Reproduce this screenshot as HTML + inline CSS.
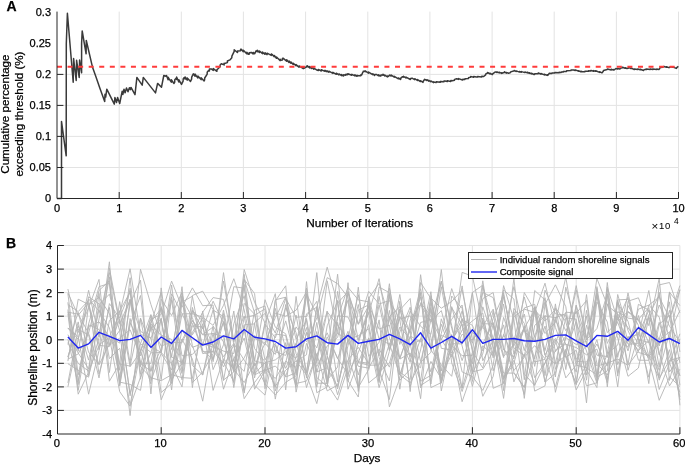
<!DOCTYPE html><html><head><meta charset="utf-8"><style>html,body{margin:0;padding:0;background:#fff;}svg{display:block;will-change:transform;filter:blur(0.3px);}text{font-family:"Liberation Sans", sans-serif;fill:#000;stroke:#000;stroke-width:0.25px;}text.thin{stroke-width:0.05px;}</style></head><body>
<svg width="685" height="465" viewBox="0 0 685 465">
<rect width="685" height="465" fill="#fff"/>
<path d="M119.2 11.6V198.5M181.3 11.6V198.5M243.4 11.6V198.5M305.6 11.6V198.5M367.8 11.6V198.5M429.9 11.6V198.5M492.1 11.6V198.5M554.2 11.6V198.5M616.4 11.6V198.5M678.5 11.6V198.5M57.0 167.5H678.5M57.0 136.4H678.5M57.0 105.4H678.5M57.0 74.4H678.5" stroke="#e3e3e3" stroke-width="1" fill="none"/>
<polyline points="57.0,198.4 61.5,198.4 61.5,121.4 66.2,155.8 66.3,43.7 67.4,13.3 73.2,82.2 73.6,58.6 76.2,80.5 76.6,60.3 79.2,77.5 79.6,59.9 81.6,72.8 81.6,43.5 82.2,31.0 86.1,53.8 86.3,40.5 91.9,64.6 92.8,68.1 96.1,77.2 99.8,88.0 104.7,101.4 105.0,94.2 105.7,97.1 106.8,89.2 114.3,104.1 114.9,97.6 116.5,102.5 117.6,97.4 119.7,103.5 122.2,91.2 122.9,94.4 124.0,89.2 125.1,92.8 126.5,88.0 128.0,91.7 129.4,87.7 130.5,89.6 131.0,87.4 135.0,94.7 136.9,77.4 142.2,85.2 143.3,77.4 155.5,92.9 157.6,83.4 161.5,87.2 163.8,75.5 166.0,76.2 166.5,75.6 168.1,79.7 168.2,77.2 168.6,78.2 171.3,82.2 171.3,79.7 174.0,83.5 174.7,82.2 174.8,79.8 176.1,78.1 176.6,79.4 176.6,77.0 178.8,82.0 178.8,79.7 181.5,84.4 183.1,81.2 183.2,79.0 184.1,77.6 185.1,79.1 185.1,77.0 187.2,80.1 187.3,77.9 187.5,78.2 190.5,81.4 191.6,79.1 191.7,77.1 193.3,73.8 195.1,76.2 195.1,74.1 196.6,76.4 197.9,78.0 197.9,76.0 201.1,79.6 201.1,77.7 204.1,80.9 204.6,79.9 204.7,78.0 207.2,74.1 207.2,72.3 208.4,70.6 209.4,71.0 209.4,69.1 211.6,69.1 213.3,70.4 213.3,68.6 216.9,71.3 217.0,69.6 217.0,69.7 220.1,66.8 220.1,65.1 221.3,63.8 224.1,64.9 224.1,63.3 224.5,63.5 227.4,62.6 227.4,61.0 229.9,59.9 231.8,57.7 231.9,56.1 232.0,55.9 234.2,51.4 234.2,49.8 234.2,49.7 237.4,52.5 237.5,52.5 237.5,51.0 240.6,50.8 240.6,49.3 241.3,49.3 243.3,51.7 243.4,50.2 246.7,53.8 246.8,52.3 248.2,54.2 249.2,54.2 249.2,52.8 251.4,52.4 253.1,54.0 253.2,52.4 254.6,53.8 256.1,50.8 257.3,51.7 257.3,50.2 259.4,52.5 259.5,51.0 262.5,53.6 262.5,52.1 263.6,53.2 265.0,54.3 265.1,52.8 267.1,54.6 267.1,53.2 271.3,55.4 271.3,53.9 272.2,54.5 274.2,56.8 274.3,55.4 276.4,58.3 276.5,56.9 280.0,60.6 280.1,59.2 280.8,60.2 282.4,59.9 282.4,58.5 283.0,58.2 286.6,61.2 286.7,59.8 289.0,62.4 289.1,61.0 290.9,63.3 291.0,62.0 293.2,64.5 293.3,63.2 296.0,65.8 296.0,64.5 298.0,66.4 299.0,67.2 299.1,65.9 303.3,68.6 303.3,67.4 304.5,68.2 306.6,66.7 307.0,66.9 307.0,65.7 309.7,67.9 309.7,66.6 311.5,68.5 311.6,67.3 313.8,69.3 313.8,68.1 317.4,70.3 318.3,70.6 318.3,69.4 321.3,71.0 321.3,69.8 325.0,71.4 325.0,70.3 326.0,71.0 326.9,71.8 327.0,70.7 328.8,72.3 328.9,71.2 332.9,73.4 332.9,72.3 336.3,74.3 336.3,73.2 338.9,74.9 338.9,74.9 339.0,73.9 341.6,75.6 341.6,74.5 343.2,75.8 343.6,75.9 343.7,74.8 345.9,75.2 345.9,74.2 347.5,74.6 347.7,74.8 347.8,73.7 351.8,75.3 351.8,75.3 351.9,74.3 354.9,75.9 354.9,74.8 357.0,76.3 357.1,75.2 357.3,75.4 360.8,75.7 360.9,74.7 361.7,74.9 362.8,72.2 363.1,72.2 363.2,71.2 364.6,71.3 365.1,71.8 365.1,70.8 368.5,73.1 368.6,72.1 372.7,74.7 372.8,73.7 374.6,75.4 374.7,74.4 374.8,74.6 376.3,74.4 378.6,75.8 378.6,74.8 379.9,75.9 380.9,75.9 380.9,74.9 382.8,75.1 382.9,75.2 383.0,74.3 384.8,75.9 384.8,75.0 387.4,76.9 387.4,76.0 388.2,76.5 389.7,75.1 391.1,76.0 391.2,75.1 394.3,77.2 394.3,76.3 398.4,78.8 398.4,77.9 400.4,79.4 400.8,79.1 400.8,78.2 402.6,76.7 403.4,77.2 403.5,76.3 405.9,78.0 406.0,77.1 410.4,79.5 410.4,78.6 410.6,78.7 412.0,78.1 414.7,79.6 414.7,78.7 417.4,80.5 417.5,79.6 420.4,81.5 420.4,80.7 423.0,82.4 423.0,82.4 423.1,81.5 424.7,79.3 426.9,80.5 426.9,79.7 428.8,81.1 428.8,80.3 430.7,81.7 430.8,80.9 433.6,82.6 433.7,81.8 433.9,82.0 436.1,82.6 436.2,81.8 440.2,82.3 440.2,81.5 440.5,81.6 444.0,81.7 444.0,80.9 444.9,81.0 447.3,81.5 447.3,80.7 450.8,81.4 450.9,80.6 452.3,80.8 454.5,80.2 454.6,79.4 456.7,78.7 458.4,79.4 458.5,78.6 462.5,80.0 462.7,80.0 462.8,79.3 464.9,79.5 465.0,78.7 468.4,78.6 468.4,78.6 468.5,77.8 470.5,77.1 470.6,77.2 470.7,76.4 473.6,77.2 473.7,76.4 476.4,77.0 477.5,77.1 477.6,76.4 481.7,76.9 481.8,76.2 483.7,76.5 485.6,74.9 485.6,74.2 487.3,73.1 487.5,73.2 487.5,72.5 490.3,74.0 490.3,73.3 492.4,74.6 492.5,74.6 492.6,73.9 495.4,71.9 497.0,72.5 497.0,71.8 499.2,72.9 499.2,72.2 501.6,73.4 501.7,72.7 502.7,73.2 504.1,72.4 504.4,72.5 504.5,71.8 506.4,73.1 506.4,72.4 508.5,73.3 510.5,72.6 510.6,71.9 513.6,71.0 514.0,71.1 514.1,70.4 516.3,71.5 516.3,70.9 519.4,72.1 519.5,71.5 519.5,71.5 521.4,72.3 521.5,71.6 524.9,72.6 524.9,71.9 526.8,72.6 527.3,72.9 527.4,72.2 529.2,73.4 529.3,72.7 531.3,73.9 531.4,73.3 534.0,74.5 534.6,74.5 534.7,73.8 538.1,73.7 538.2,73.0 538.4,73.0 540.8,74.1 540.9,73.5 544.4,74.9 544.4,74.2 545.0,74.5 547.1,75.4 547.2,74.8 548.0,75.2 548.8,73.8 549.3,73.8 549.3,73.2 551.9,73.5 552.0,72.9 554.6,73.1 554.8,73.1 554.8,72.5 559.0,72.8 559.1,72.2 560.4,72.5 561.2,72.5 561.2,71.9 563.2,72.1 563.2,71.5 566.3,71.4 566.5,71.4 566.6,70.8 570.9,70.6 571.0,70.0 573.6,70.0 575.2,70.5 575.2,69.9 578.8,71.3 578.9,70.8 580.8,71.8 580.9,71.2 582.3,71.7 584.8,71.8 584.9,71.2 588.4,71.3 588.5,70.7 590.6,71.0 590.7,70.5 591.1,70.5 593.7,71.2 593.7,70.6 595.5,71.2 595.6,71.3 595.7,70.7 599.6,72.4 599.6,71.8 602.0,72.9 603.3,71.2 603.4,70.7 603.5,70.4 607.2,69.5 607.3,69.5 607.4,68.9 611.2,69.9 611.2,69.3 613.7,70.1 613.7,69.5 614.5,69.7 615.9,68.5 617.6,69.0 617.7,68.4 619.6,69.1 620.1,68.9 620.1,68.4 622.3,67.8 622.3,67.3 622.5,67.2 625.1,68.3 625.2,67.8 626.9,68.5 628.3,68.3 628.3,67.7 629.0,67.6 630.8,68.5 630.9,68.0 633.9,69.4 634.3,69.5 634.3,68.9 637.7,69.6 637.7,69.1 639.5,69.5 640.1,69.8 640.2,69.3 643.6,70.5 643.6,70.5 643.7,69.9 645.7,69.3 646.4,69.5 646.4,68.9 650.2,69.5 650.2,69.0 652.7,69.6 652.8,69.0 656.7,69.6 656.8,69.1 658.9,69.5 659.6,68.8 659.7,68.3 660.5,67.5 662.9,67.2 663.0,66.7 664.0,66.5 666.5,67.3 666.6,66.8 668.1,67.4 669.7,67.5 669.8,66.9 672.2,67.1 672.2,67.2 672.3,66.7 676.3,68.4 676.7,68.1 676.7,67.6 678.4,66.4" fill="none" stroke="#3a3a3a" stroke-width="1.5" stroke-linejoin="round"/>
<path d="M57 66.8H678" stroke="#ff3b3b" stroke-width="2" stroke-dasharray="5 5.563" fill="none"/>
<path d="M57.0 11.6V198.5H678.5M119.2 198.5v-6.5M181.3 198.5v-6.5M243.4 198.5v-6.5M305.6 198.5v-6.5M367.8 198.5v-6.5M429.9 198.5v-6.5M492.1 198.5v-6.5M554.2 198.5v-6.5M616.4 198.5v-6.5M678.5 198.5v-6.5M57.0 167.5h6.4M57.0 136.4h6.4M57.0 105.4h6.4M57.0 74.4h6.4" stroke="#262626" stroke-width="1" fill="none"/>
<text x="51" y="202.4" font-size="11" text-anchor="end">0</text>
<text x="51" y="171.4" font-size="11" text-anchor="end">0.05</text>
<text x="51" y="140.3" font-size="11" text-anchor="end">0.1</text>
<text x="51" y="109.3" font-size="11" text-anchor="end">0.15</text>
<text x="51" y="78.3" font-size="11" text-anchor="end">0.2</text>
<text x="51" y="47.2" font-size="11" text-anchor="end">0.25</text>
<text x="51" y="16.2" font-size="11" text-anchor="end">0.3</text>
<text x="57.0" y="212.2" font-size="11" text-anchor="middle">0</text>
<text x="119.2" y="212.2" font-size="11" text-anchor="middle">1</text>
<text x="181.3" y="212.2" font-size="11" text-anchor="middle">2</text>
<text x="243.4" y="212.2" font-size="11" text-anchor="middle">3</text>
<text x="305.6" y="212.2" font-size="11" text-anchor="middle">4</text>
<text x="367.8" y="212.2" font-size="11" text-anchor="middle">5</text>
<text x="429.9" y="212.2" font-size="11" text-anchor="middle">6</text>
<text x="492.1" y="212.2" font-size="11" text-anchor="middle">7</text>
<text x="554.2" y="212.2" font-size="11" text-anchor="middle">8</text>
<text x="616.4" y="212.2" font-size="11" text-anchor="middle">9</text>
<text x="678.5" y="212.2" font-size="11" text-anchor="middle">10</text>
<text x="359.6" y="226.8" font-size="11.8" text-anchor="middle">Number of Iterations</text>
<text class="thin" x="651.5" y="229.6" font-size="11.5">&#215;</text><text class="thin" x="659" y="228.8" font-size="9.5" letter-spacing="0.8">10</text><text class="thin" x="673.9" y="223.6" font-size="8.4">4</text>
<text transform="translate(9,114.1) rotate(-90)" font-size="11.6" text-anchor="middle">Cumulative percentage</text>
<text transform="translate(23.2,114.1) rotate(-90)" font-size="11.6" text-anchor="middle">exceeding threshold (%)</text>
<text x="6.5" y="10.8" font-size="14" font-weight="bold">A</text>
<path d="M161.2 245.5V434.0M265.0 245.5V434.0M368.7 245.5V434.0M472.4 245.5V434.0M576.2 245.5V434.0M679.9 245.5V434.0M57.5 410.4H679.9M57.5 386.9H679.9M57.5 363.3H679.9M57.5 339.8H679.9M57.5 316.2H679.9M57.5 292.6H679.9M57.5 269.1H679.9M57.5 245.5H679.9" stroke="#e3e3e3" stroke-width="1" fill="none"/>
<path d="M67.9 382.9 L78.2 329.4 L88.6 334.9 L99.0 377.9 L109.4 320.4 L119.7 311.1 L130.1 292.0 L140.5 363.1 L150.9 363.4 L161.2 306.5 L171.6 349.6 L182.0 298.7 L192.4 317.7 L202.7 353.6 L213.1 351.8 L223.5 281.0 L233.8 340.7 L244.2 316.0 L254.6 372.6 L265.0 322.3 L275.3 399.1 L285.7 342.6 L296.1 385.2 L306.5 281.6 L316.8 383.2 L327.2 383.3 L337.6 291.3 L348.0 356.6 L358.3 387.4 L368.7 297.7 L379.1 381.5 L389.4 316.6 L399.8 306.8 L410.2 332.9 L420.6 292.3 L430.9 384.0 L441.3 318.8 L451.7 348.6 L462.1 285.9 L472.4 351.7 L482.8 368.0 L493.2 323.9 L503.6 377.3 L513.9 360.3 L524.3 394.6 L534.7 307.0 L545.0 350.6 L555.4 307.8 L565.8 321.5 L576.2 365.2 L586.5 367.8 L596.9 374.9 L607.3 364.3 L617.7 316.5 L628.0 344.2 L638.4 343.6 L648.8 358.3 L659.2 322.3 L669.5 356.9 L679.9 375.7M67.9 302.3 L78.2 381.3 L88.6 324.0 L99.0 286.7 L109.4 283.4 L119.7 370.3 L130.1 303.8 L140.5 280.2 L150.9 393.9 L161.2 287.9 L171.6 365.2 L182.0 386.9 L192.4 310.4 L202.7 328.9 L213.1 301.2 L223.5 323.1 L233.8 367.8 L244.2 284.4 L254.6 373.8 L265.0 362.7 L275.3 359.9 L285.7 351.7 L296.1 358.2 L306.5 327.5 L316.8 387.2 L327.2 325.8 L337.6 301.1 L348.0 381.5 L358.3 343.5 L368.7 306.7 L379.1 357.4 L389.4 381.0 L399.8 301.3 L410.2 391.6 L420.6 282.5 L430.9 298.6 L441.3 390.9 L451.7 341.9 L462.1 318.6 L472.4 363.9 L482.8 298.6 L493.2 292.6 L503.6 350.0 L513.9 357.0 L524.3 328.9 L534.7 377.7 L545.0 362.8 L555.4 343.8 L565.8 312.1 L576.2 313.4 L586.5 300.4 L596.9 376.0 L607.3 303.8 L617.7 338.0 L628.0 376.3 L638.4 368.0 L648.8 317.3 L659.2 380.2 L669.5 349.7 L679.9 396.9M67.9 334.7 L78.2 353.0 L88.6 368.8 L99.0 304.5 L109.4 294.2 L119.7 330.9 L130.1 415.6 L140.5 318.7 L150.9 371.4 L161.2 318.3 L171.6 383.3 L182.0 340.0 L192.4 321.2 L202.7 334.9 L213.1 333.5 L223.5 336.6 L233.8 382.7 L244.2 274.4 L254.6 366.2 L265.0 343.3 L275.3 354.4 L285.7 320.9 L296.1 360.8 L306.5 374.9 L316.8 403.6 L327.2 356.1 L337.6 388.9 L348.0 339.3 L358.3 335.8 L368.7 328.8 L379.1 382.7 L389.4 294.0 L399.8 389.2 L410.2 320.1 L420.6 304.5 L430.9 321.7 L441.3 310.6 L451.7 349.0 L462.1 401.7 L472.4 371.9 L482.8 369.3 L493.2 351.6 L503.6 304.0 L513.9 372.5 L524.3 387.2 L534.7 356.8 L545.0 326.1 L555.4 377.0 L565.8 287.2 L576.2 324.6 L586.5 402.9 L596.9 288.4 L607.3 386.9 L617.7 294.5 L628.0 330.6 L638.4 352.4 L648.8 355.6 L659.2 378.3 L669.5 360.4 L679.9 357.5M67.9 386.9 L78.2 339.0 L88.6 290.3 L99.0 337.1 L109.4 261.8 L119.7 382.1 L130.1 384.4 L140.5 390.4 L150.9 324.0 L161.2 335.7 L171.6 343.9 L182.0 373.5 L192.4 295.5 L202.7 291.2 L213.1 309.7 L223.5 362.0 L233.8 381.8 L244.2 325.4 L254.6 389.2 L265.0 370.4 L275.3 366.0 L285.7 376.4 L296.1 344.1 L306.5 294.0 L316.8 314.7 L327.2 355.6 L337.6 394.8 L348.0 359.9 L358.3 347.4 L368.7 363.5 L379.1 319.9 L389.4 406.9 L399.8 378.1 L410.2 336.0 L420.6 342.0 L430.9 307.4 L441.3 382.6 L451.7 296.0 L462.1 308.4 L472.4 372.3 L482.8 306.8 L493.2 338.2 L503.6 398.4 L513.9 316.8 L524.3 309.1 L534.7 312.5 L545.0 283.2 L555.4 327.5 L565.8 356.0 L576.2 305.2 L586.5 370.7 L596.9 286.6 L607.3 353.5 L617.7 345.1 L628.0 292.9 L638.4 339.8 L648.8 342.4 L659.2 376.7 L669.5 291.9 L679.9 351.9M67.9 313.8 L78.2 394.2 L88.6 372.3 L99.0 293.3 L109.4 381.2 L119.7 363.6 L130.1 277.7 L140.5 379.2 L150.9 326.3 L161.2 346.0 L171.6 342.2 L182.0 342.8 L192.4 320.2 L202.7 334.5 L213.1 327.0 L223.5 380.0 L233.8 372.0 L244.2 279.3 L254.6 312.9 L265.0 359.9 L275.3 343.2 L285.7 377.0 L296.1 372.7 L306.5 295.4 L316.8 361.1 L327.2 311.8 L337.6 325.1 L348.0 339.5 L358.3 366.3 L368.7 368.1 L379.1 349.1 L389.4 367.1 L399.8 332.0 L410.2 307.2 L420.6 385.5 L430.9 378.8 L441.3 335.3 L451.7 340.2 L462.1 324.1 L472.4 381.4 L482.8 320.6 L493.2 388.3 L503.6 383.5 L513.9 355.7 L524.3 308.0 L534.7 304.3 L545.0 355.5 L555.4 363.8 L565.8 355.5 L576.2 384.8 L586.5 310.3 L596.9 363.4 L607.3 375.0 L617.7 353.6 L628.0 337.0 L638.4 334.5 L648.8 310.2 L659.2 346.0 L669.5 310.3 L679.9 362.9M67.9 293.0 L78.2 315.3 L88.6 302.6 L99.0 349.8 L109.4 268.2 L119.7 321.5 L130.1 393.4 L140.5 351.0 L150.9 323.4 L161.2 292.1 L171.6 381.1 L182.0 293.2 L192.4 345.6 L202.7 374.8 L213.1 333.3 L223.5 389.2 L233.8 358.9 L244.2 338.0 L254.6 385.4 L265.0 395.1 L275.3 345.0 L285.7 368.4 L296.1 343.2 L306.5 375.8 L316.8 331.5 L327.2 384.4 L337.6 300.4 L348.0 389.2 L358.3 361.7 L368.7 363.3 L379.1 304.7 L389.4 350.6 L399.8 308.9 L410.2 345.5 L420.6 339.9 L430.9 291.7 L441.3 383.3 L451.7 345.5 L462.1 355.6 L472.4 355.4 L482.8 322.1 L493.2 357.9 L503.6 285.6 L513.9 319.4 L524.3 398.4 L534.7 307.0 L545.0 333.5 L555.4 322.4 L565.8 277.3 L576.2 338.3 L586.5 374.9 L596.9 294.6 L607.3 357.6 L617.7 314.0 L628.0 327.6 L638.4 343.4 L648.8 316.7 L659.2 340.2 L669.5 331.8 L679.9 375.8M67.9 342.5 L78.2 363.4 L88.6 371.1 L99.0 345.4 L109.4 346.5 L119.7 318.8 L130.1 395.8 L140.5 343.8 L150.9 314.5 L161.2 353.2 L171.6 293.8 L182.0 313.9 L192.4 334.8 L202.7 317.8 L213.1 361.7 L223.5 310.1 L233.8 361.3 L244.2 371.4 L254.6 310.2 L265.0 305.9 L275.3 351.8 L285.7 355.4 L296.1 326.9 L306.5 341.9 L316.8 317.9 L327.2 277.6 L337.6 283.7 L348.0 297.3 L358.3 362.3 L368.7 338.0 L379.1 371.9 L389.4 363.1 L399.8 327.0 L410.2 338.8 L420.6 293.4 L430.9 387.6 L441.3 382.6 L451.7 334.5 L462.1 388.4 L472.4 352.3 L482.8 280.8 L493.2 346.8 L503.6 378.8 L513.9 363.3 L524.3 325.7 L534.7 391.1 L545.0 385.9 L555.4 319.3 L565.8 344.3 L576.2 347.5 L586.5 354.8 L596.9 349.1 L607.3 382.8 L617.7 311.6 L628.0 318.1 L638.4 319.7 L648.8 334.8 L659.2 389.5 L669.5 363.6 L679.9 333.8M67.9 359.1 L78.2 353.9 L88.6 333.3 L99.0 364.9 L109.4 344.0 L119.7 311.0 L130.1 366.7 L140.5 351.8 L150.9 322.2 L161.2 308.3 L171.6 357.3 L182.0 286.7 L192.4 387.6 L202.7 311.0 L213.1 369.6 L223.5 344.8 L233.8 286.7 L244.2 288.2 L254.6 348.6 L265.0 361.7 L275.3 387.4 L285.7 304.5 L296.1 353.7 L306.5 372.6 L316.8 307.4 L327.2 267.2 L337.6 303.1 L348.0 291.7 L358.3 339.4 L368.7 312.8 L379.1 278.7 L389.4 338.0 L399.8 358.4 L410.2 328.1 L420.6 288.7 L430.9 337.8 L441.3 382.9 L451.7 306.6 L462.1 345.9 L472.4 386.4 L482.8 345.7 L493.2 355.3 L503.6 296.8 L513.9 341.4 L524.3 297.0 L534.7 336.6 L545.0 302.1 L555.4 369.4 L565.8 337.7 L576.2 344.5 L586.5 341.3 L596.9 381.2 L607.3 287.2 L617.7 320.3 L628.0 297.1 L638.4 338.3 L648.8 377.2 L659.2 324.3 L669.5 315.2 L679.9 385.2M67.9 309.5 L78.2 390.3 L88.6 326.7 L99.0 321.8 L109.4 336.8 L119.7 313.6 L130.1 268.8 L140.5 334.5 L150.9 337.5 L161.2 399.8 L171.6 374.9 L182.0 296.0 L192.4 382.7 L202.7 372.0 L213.1 353.6 L223.5 272.6 L233.8 345.3 L244.2 391.5 L254.6 338.4 L265.0 342.9 L275.3 317.6 L285.7 297.0 L296.1 339.1 L306.5 320.2 L316.8 392.7 L327.2 386.9 L337.6 322.3 L348.0 380.7 L358.3 397.0 L368.7 298.4 L379.1 283.3 L389.4 319.2 L399.8 358.7 L410.2 330.1 L420.6 297.0 L430.9 350.0 L441.3 364.8 L451.7 376.3 L462.1 319.0 L472.4 343.2 L482.8 292.5 L493.2 297.6 L503.6 347.7 L513.9 370.5 L524.3 357.3 L534.7 345.6 L545.0 358.8 L555.4 317.0 L565.8 357.3 L576.2 350.3 L586.5 385.8 L596.9 382.8 L607.3 353.5 L617.7 301.0 L628.0 370.3 L638.4 335.4 L648.8 290.5 L659.2 353.4 L669.5 385.9 L679.9 369.2M67.9 328.2 L78.2 339.2 L88.6 298.9 L99.0 311.0 L109.4 327.7 L119.7 377.1 L130.1 322.7 L140.5 343.8 L150.9 352.4 L161.2 318.4 L171.6 389.9 L182.0 302.1 L192.4 296.2 L202.7 351.8 L213.1 351.3 L223.5 363.1 L233.8 311.0 L244.2 393.1 L254.6 322.5 L265.0 313.5 L275.3 333.0 L285.7 298.4 L296.1 317.3 L306.5 316.5 L316.8 301.3 L327.2 368.1 L337.6 386.7 L348.0 339.3 L358.3 362.6 L368.7 365.2 L379.1 365.1 L389.4 310.4 L399.8 374.8 L410.2 343.4 L420.6 398.7 L430.9 295.6 L441.3 348.3 L451.7 350.1 L462.1 272.4 L472.4 276.1 L482.8 323.7 L493.2 324.0 L503.6 373.1 L513.9 373.1 L524.3 387.5 L534.7 325.4 L545.0 316.0 L555.4 317.8 L565.8 313.6 L576.2 361.3 L586.5 362.1 L596.9 344.0 L607.3 366.2 L617.7 299.9 L628.0 299.3 L638.4 341.2 L648.8 356.6 L659.2 343.1 L669.5 337.5 L679.9 289.4M67.9 304.5 L78.2 311.6 L88.6 300.4 L99.0 374.0 L109.4 336.6 L119.7 343.1 L130.1 288.2 L140.5 366.6 L150.9 377.7 L161.2 380.7 L171.6 374.7 L182.0 377.6 L192.4 378.3 L202.7 323.7 L213.1 390.4 L223.5 359.1 L233.8 368.7 L244.2 330.4 L254.6 377.9 L265.0 324.1 L275.3 337.9 L285.7 307.7 L296.1 332.8 L306.5 387.6 L316.8 353.5 L327.2 390.9 L337.6 385.1 L348.0 345.7 L358.3 304.5 L368.7 369.2 L379.1 296.4 L389.4 349.5 L399.8 294.5 L410.2 360.1 L420.6 367.8 L430.9 302.6 L441.3 339.8 L451.7 319.3 L462.1 305.0 L472.4 372.7 L482.8 353.5 L493.2 311.0 L503.6 390.6 L513.9 311.5 L524.3 350.6 L534.7 306.6 L545.0 375.6 L555.4 303.9 L565.8 369.6 L576.2 305.3 L586.5 340.1 L596.9 295.2 L607.3 343.4 L617.7 322.2 L628.0 350.9 L638.4 315.5 L648.8 356.2 L659.2 292.2 L669.5 372.0 L679.9 357.1M67.9 293.7 L78.2 374.9 L88.6 324.8 L99.0 329.5 L109.4 345.3 L119.7 338.1 L130.1 329.7 L140.5 355.8 L150.9 328.7 L161.2 319.2 L171.6 380.1 L182.0 363.2 L192.4 332.5 L202.7 312.1 L213.1 297.6 L223.5 299.4 L233.8 342.0 L244.2 279.4 L254.6 293.6 L265.0 388.8 L275.3 334.0 L285.7 335.5 L296.1 383.4 L306.5 381.1 L316.8 354.9 L327.2 332.8 L337.6 358.7 L348.0 331.3 L358.3 374.9 L368.7 337.8 L379.1 387.6 L389.4 351.3 L399.8 316.5 L410.2 332.4 L420.6 381.3 L430.9 375.3 L441.3 333.5 L451.7 288.6 L462.1 319.5 L472.4 325.3 L482.8 350.9 L493.2 318.2 L503.6 294.8 L513.9 348.2 L524.3 355.7 L534.7 311.6 L545.0 382.2 L555.4 373.4 L565.8 337.7 L576.2 289.8 L586.5 339.6 L596.9 328.6 L607.3 293.7 L617.7 373.4 L628.0 336.6 L638.4 350.4 L648.8 340.7 L659.2 370.4 L669.5 332.9 L679.9 310.4M67.9 363.7 L78.2 370.2 L88.6 377.2 L99.0 318.9 L109.4 272.6 L119.7 323.8 L130.1 299.7 L140.5 331.2 L150.9 338.6 L161.2 307.8 L171.6 357.1 L182.0 362.7 L192.4 323.4 L202.7 350.6 L213.1 359.3 L223.5 321.5 L233.8 369.4 L244.2 382.5 L254.6 363.1 L265.0 383.6 L275.3 395.0 L285.7 382.3 L296.1 375.8 L306.5 332.3 L316.8 347.9 L327.2 311.0 L337.6 381.9 L348.0 282.7 L358.3 387.4 L368.7 369.4 L379.1 287.0 L389.4 292.7 L399.8 359.1 L410.2 353.1 L420.6 381.0 L430.9 309.3 L441.3 375.6 L451.7 354.2 L462.1 387.9 L472.4 292.7 L482.8 360.8 L493.2 340.5 L503.6 290.0 L513.9 299.0 L524.3 379.7 L534.7 290.5 L545.0 300.0 L555.4 363.5 L565.8 317.8 L576.2 319.2 L586.5 380.2 L596.9 301.9 L607.3 322.0 L617.7 386.9 L628.0 301.2 L638.4 297.8 L648.8 325.7 L659.2 278.5 L669.5 380.4 L679.9 338.8M67.9 312.2 L78.2 314.1 L88.6 333.3 L99.0 290.5 L109.4 280.7 L119.7 385.1 L130.1 318.5 L140.5 363.6 L150.9 371.1 L161.2 348.8 L171.6 300.0 L182.0 371.5 L192.4 307.4 L202.7 345.0 L213.1 310.0 L223.5 316.5 L233.8 387.6 L244.2 324.8 L254.6 323.9 L265.0 385.0 L275.3 301.1 L285.7 285.8 L296.1 392.1 L306.5 343.4 L316.8 366.5 L327.2 345.9 L337.6 337.4 L348.0 292.8 L358.3 324.4 L368.7 305.9 L379.1 369.7 L389.4 399.5 L399.8 310.0 L410.2 298.5 L420.6 387.8 L430.9 361.4 L441.3 378.6 L451.7 343.7 L462.1 343.9 L472.4 292.5 L482.8 285.2 L493.2 349.4 L503.6 336.1 L513.9 286.7 L524.3 331.5 L534.7 340.8 L545.0 297.7 L555.4 351.8 L565.8 336.1 L576.2 285.6 L586.5 337.5 L596.9 293.1 L607.3 332.6 L617.7 321.4 L628.0 311.4 L638.4 319.4 L648.8 307.6 L659.2 367.1 L669.5 292.2 L679.9 305.6M67.9 344.5 L78.2 312.3 L88.6 352.3 L99.0 363.9 L109.4 303.6 L119.7 317.9 L130.1 290.9 L140.5 374.3 L150.9 325.3 L161.2 392.5 L171.6 383.4 L182.0 329.9 L192.4 347.3 L202.7 343.6 L213.1 347.2 L223.5 322.3 L233.8 371.5 L244.2 303.4 L254.6 314.2 L265.0 373.7 L275.3 299.8 L285.7 297.2 L296.1 375.0 L306.5 313.8 L316.8 307.1 L327.2 355.4 L337.6 274.2 L348.0 376.8 L358.3 310.0 L368.7 304.9 L379.1 329.1 L389.4 325.1 L399.8 380.3 L410.2 369.4 L420.6 338.6 L430.9 371.9 L441.3 324.2 L451.7 353.4 L462.1 330.0 L472.4 320.9 L482.8 313.1 L493.2 370.8 L503.6 334.3 L513.9 359.2 L524.3 292.6 L534.7 310.8 L545.0 354.8 L555.4 338.4 L565.8 357.2 L576.2 384.2 L586.5 364.2 L596.9 339.8 L607.3 379.6 L617.7 302.6 L628.0 321.3 L638.4 360.2 L648.8 360.3 L659.2 339.5 L669.5 301.9 L679.9 405.3M67.9 356.9 L78.2 325.5 L88.6 360.1 L99.0 309.6 L109.4 345.1 L119.7 330.4 L130.1 299.7 L140.5 366.6 L150.9 315.3 L161.2 379.6 L171.6 296.9 L182.0 355.8 L192.4 354.4 L202.7 343.7 L213.1 344.7 L223.5 367.0 L233.8 344.9 L244.2 398.7 L254.6 382.5 L265.0 368.8 L275.3 378.5 L285.7 361.2 L296.1 367.4 L306.5 318.3 L316.8 377.6 L327.2 386.4 L337.6 315.8 L348.0 317.0 L358.3 340.5 L368.7 312.3 L379.1 375.7 L389.4 316.8 L399.8 335.6 L410.2 356.7 L420.6 322.5 L430.9 319.5 L441.3 339.2 L451.7 356.8 L462.1 334.3 L472.4 340.2 L482.8 327.4 L493.2 339.1 L503.6 383.2 L513.9 308.4 L524.3 323.4 L534.7 359.0 L545.0 290.2 L555.4 313.8 L565.8 315.4 L576.2 359.4 L586.5 345.2 L596.9 278.5 L607.3 305.2 L617.7 314.2 L628.0 364.4 L638.4 304.3 L648.8 310.1 L659.2 354.9 L669.5 319.0 L679.9 290.1M67.9 339.3 L78.2 384.6 L88.6 305.4 L99.0 344.7 L109.4 337.4 L119.7 391.6 L130.1 406.3 L140.5 377.3 L150.9 352.8 L161.2 352.5 L171.6 363.4 L182.0 339.1 L192.4 359.1 L202.7 401.2 L213.1 340.3 L223.5 356.6 L233.8 343.5 L244.2 360.2 L254.6 374.9 L265.0 369.4 L275.3 308.4 L285.7 348.8 L296.1 387.3 L306.5 288.1 L316.8 363.4 L327.2 280.8 L337.6 333.9 L348.0 338.5 L358.3 294.7 L368.7 356.3 L379.1 342.2 L389.4 295.7 L399.8 344.4 L410.2 311.1 L420.6 326.3 L430.9 334.4 L441.3 281.2 L451.7 328.4 L462.1 360.6 L472.4 332.2 L482.8 343.5 L493.2 322.5 L503.6 357.6 L513.9 278.5 L524.3 373.9 L534.7 385.5 L545.0 304.4 L555.4 284.8 L565.8 306.7 L576.2 382.0 L586.5 325.2 L596.9 355.2 L607.3 356.5 L617.7 333.2 L628.0 347.4 L638.4 309.2 L648.8 305.1 L659.2 297.0 L669.5 317.9 L679.9 285.6M67.9 361.1 L78.2 299.2 L88.6 304.5 L99.0 297.4 L109.4 313.5 L119.7 364.0 L130.1 366.1 L140.5 318.0 L150.9 346.4 L161.2 352.5 L171.6 285.1 L182.0 365.2 L192.4 325.9 L202.7 327.0 L213.1 359.3 L223.5 313.5 L233.8 369.6 L244.2 317.6 L254.6 315.3 L265.0 308.9 L275.3 390.9 L285.7 363.1 L296.1 315.2 L306.5 372.4 L316.8 306.6 L327.2 380.6 L337.6 329.4 L348.0 300.3 L358.3 391.5 L368.7 296.7 L379.1 339.2 L389.4 344.2 L399.8 318.9 L410.2 315.8 L420.6 361.6 L430.9 320.5 L441.3 281.4 L451.7 325.4 L462.1 371.9 L472.4 376.5 L482.8 390.4 L493.2 365.1 L503.6 292.6 L513.9 354.0 L524.3 327.8 L534.7 362.0 L545.0 359.3 L555.4 386.8 L565.8 349.2 L576.2 389.9 L586.5 369.8 L596.9 387.6 L607.3 282.5 L617.7 364.7 L628.0 337.0 L638.4 346.7 L648.8 305.0 L659.2 317.1 L669.5 362.6 L679.9 392.4M67.9 357.2 L78.2 321.9 L88.6 375.8 L99.0 337.6 L109.4 276.8 L119.7 386.1 L130.1 324.8 L140.5 295.5 L150.9 380.6 L161.2 353.5 L171.6 370.0 L182.0 313.9 L192.4 313.7 L202.7 317.2 L213.1 325.4 L223.5 305.3 L233.8 278.7 L244.2 309.9 L254.6 361.1 L265.0 299.7 L275.3 327.2 L285.7 333.8 L296.1 372.4 L306.5 332.8 L316.8 371.9 L327.2 367.8 L337.6 317.9 L348.0 287.3 L358.3 299.9 L368.7 301.9 L379.1 355.8 L389.4 283.7 L399.8 372.1 L410.2 379.6 L420.6 274.7 L430.9 349.7 L441.3 269.5 L451.7 362.9 L462.1 391.5 L472.4 359.1 L482.8 318.0 L493.2 354.3 L503.6 324.9 L513.9 381.9 L524.3 354.5 L534.7 385.2 L545.0 363.4 L555.4 340.0 L565.8 377.9 L576.2 365.0 L586.5 316.2 L596.9 378.5 L607.3 294.7 L617.7 376.1 L628.0 305.4 L638.4 325.4 L648.8 383.6 L659.2 284.9 L669.5 282.5 L679.9 312.9M67.9 328.0 L78.2 336.7 L88.6 394.2 L99.0 350.5 L109.4 307.4 L119.7 383.5 L130.1 299.1 L140.5 351.1 L150.9 383.9 L161.2 299.2 L171.6 315.5 L182.0 292.3 L192.4 365.5 L202.7 375.0 L213.1 326.0 L223.5 341.9 L233.8 371.8 L244.2 357.9 L254.6 335.5 L265.0 345.1 L275.3 313.1 L285.7 316.2 L296.1 310.2 L306.5 291.9 L316.8 372.3 L327.2 336.8 L337.6 358.4 L348.0 374.2 L358.3 352.5 L368.7 324.6 L379.1 376.4 L389.4 343.7 L399.8 374.8 L410.2 382.9 L420.6 362.2 L430.9 352.3 L441.3 286.7 L451.7 343.5 L462.1 310.9 L472.4 349.6 L482.8 396.3 L493.2 376.4 L503.6 317.4 L513.9 345.8 L524.3 328.1 L534.7 310.1 L545.0 321.0 L555.4 309.4 L565.8 330.7 L576.2 311.2 L586.5 344.1 L596.9 366.0 L607.3 363.1 L617.7 359.1 L628.0 365.4 L638.4 351.3 L648.8 315.1 L659.2 295.2 L669.5 340.4 L679.9 400.0M67.9 289.1 L78.2 332.5 L88.6 308.0 L99.0 279.4 L109.4 372.5 L119.7 301.6 L130.1 363.1 L140.5 269.3 L150.9 304.4 L161.2 335.1 L171.6 339.4 L182.0 379.8 L192.4 310.6 L202.7 321.1 L213.1 346.3 L223.5 351.1 L233.8 353.6 L244.2 269.5 L254.6 302.3 L265.0 322.9 L275.3 293.6 L285.7 389.9 L296.1 296.4 L306.5 378.1 L316.8 322.4 L327.2 384.0 L337.6 400.1 L348.0 367.4 L358.3 287.2 L368.7 382.9 L379.1 374.4 L389.4 288.1 L399.8 338.6 L410.2 362.4 L420.6 302.7 L430.9 316.3 L441.3 371.0 L451.7 307.7 L462.1 324.8 L472.4 373.8 L482.8 286.1 L493.2 324.7 L503.6 379.6 L513.9 340.2 L524.3 356.4 L534.7 335.9 L545.0 381.9 L555.4 349.9 L565.8 344.1 L576.2 372.1 L586.5 294.5 L596.9 377.3 L607.3 370.9 L617.7 300.1 L628.0 341.8 L638.4 332.3 L648.8 359.9 L659.2 400.3 L669.5 376.9 L679.9 386.5M67.9 311.8 L78.2 351.2 L88.6 296.8 L99.0 303.9 L109.4 358.6 L119.7 348.3 L130.1 404.8 L140.5 351.4 L150.9 319.0 L161.2 314.6 L171.6 281.1 L182.0 307.2 L192.4 287.9 L202.7 305.7 L213.1 305.1 L223.5 380.5 L233.8 323.7 L244.2 295.6 L254.6 361.0 L265.0 363.5 L275.3 386.4 L285.7 370.2 L296.1 361.1 L306.5 354.7 L316.8 272.6 L327.2 380.1 L337.6 367.0 L348.0 291.5 L358.3 324.0 L368.7 291.4 L379.1 304.0 L389.4 300.5 L399.8 319.4 L410.2 386.8 L420.6 350.0 L430.9 298.1 L441.3 308.2 L451.7 301.5 L462.1 290.2 L472.4 339.9 L482.8 326.1 L493.2 309.1 L503.6 356.4 L513.9 344.3 L524.3 314.0 L534.7 366.4 L545.0 315.4 L555.4 392.3 L565.8 350.6 L576.2 322.0 L586.5 351.0 L596.9 383.3 L607.3 289.0 L617.7 357.4 L628.0 312.0 L638.4 320.3 L648.8 342.7 L659.2 305.0 L669.5 326.2 L679.9 342.3" stroke="#b4b4b4" stroke-width="0.9" fill="none" stroke-linejoin="round"/>
<polyline points="67.9,337.0 78.2,348.1 88.6,343.9 99.0,332.3 109.4,336.3 119.7,340.6 130.1,339.4 140.5,335.4 150.9,347.4 161.2,337.0 171.6,343.4 182.0,330.4 192.4,337.7 202.7,345.1 213.1,342.0 223.5,335.9 233.8,338.9 244.2,329.5 254.6,337.3 265.0,338.9 275.3,341.5 285.7,348.1 296.1,346.7 306.5,338.9 316.8,335.9 327.2,342.7 337.6,344.1 348.0,335.4 358.3,343.4 368.7,341.3 379.1,339.4 389.4,334.4 399.8,338.9 410.2,344.6 420.6,332.8 430.9,348.1 441.3,342.5 451.7,336.3 462.1,342.9 472.4,329.7 482.8,343.4 493.2,339.4 503.6,339.4 513.9,338.5 524.3,340.8 534.7,341.3 545.0,339.4 555.4,335.4 565.8,334.9 576.2,340.8 586.5,346.5 596.9,335.4 607.3,336.3 617.7,331.4 628.0,340.3 638.4,327.6 648.8,334.7 659.2,342.0 669.5,338.5 679.9,343.6" fill="none" stroke="#1f26f0" stroke-width="1.4" stroke-linejoin="round"/>
<path d="M57.5 245.5V434.0H679.9M161.2 434.0v-6.8M265.0 434.0v-6.8M368.7 434.0v-6.8M472.4 434.0v-6.8M576.2 434.0v-6.8M679.9 434.0v-6.8M57.5 410.4h6.4M57.5 386.9h6.4M57.5 363.3h6.4M57.5 339.8h6.4M57.5 316.2h6.4M57.5 292.6h6.4M57.5 269.1h6.4M57.5 245.5h6.4" stroke="#262626" stroke-width="1" fill="none"/>
<text x="52" y="437.9" font-size="11" text-anchor="end">-4</text>
<text x="52" y="414.3" font-size="11" text-anchor="end">-3</text>
<text x="52" y="390.8" font-size="11" text-anchor="end">-2</text>
<text x="52" y="367.2" font-size="11" text-anchor="end">-1</text>
<text x="52" y="343.6" font-size="11" text-anchor="end">0</text>
<text x="52" y="320.1" font-size="11" text-anchor="end">1</text>
<text x="52" y="296.5" font-size="11" text-anchor="end">2</text>
<text x="52" y="273.0" font-size="11" text-anchor="end">3</text>
<text x="52" y="249.4" font-size="11" text-anchor="end">4</text>
<text x="56.9" y="447.4" font-size="11.2" text-anchor="middle">0</text>
<text x="160.6" y="447.4" font-size="11.2" text-anchor="middle">10</text>
<text x="264.4" y="447.4" font-size="11.2" text-anchor="middle">20</text>
<text x="368.1" y="447.4" font-size="11.2" text-anchor="middle">30</text>
<text x="471.8" y="447.4" font-size="11.2" text-anchor="middle">40</text>
<text x="575.6" y="447.4" font-size="11.2" text-anchor="middle">50</text>
<text x="679.3" y="447.4" font-size="11.2" text-anchor="middle">60</text>
<text x="367.1" y="462.2" font-size="11.8" text-anchor="middle">Days</text>
<text transform="translate(37.2,347.5) rotate(-90)" font-size="12" text-anchor="middle">Shoreline position (m)</text>
<text x="6" y="247.9" font-size="14" font-weight="bold">B</text>
<rect x="468.5" y="252.5" width="204" height="26" fill="#fff" stroke="#262626" stroke-width="1"/>
<path d="M471 259.5H497" stroke="#b4b4b4" stroke-width="1"/>
<path d="M471 272H497" stroke="#1f26f0" stroke-width="1.4"/>
<text x="499.7" y="263.2" font-size="9.6">Individual random shoreline signals</text>
<text x="499.7" y="275.3" font-size="9.6">Composite signal</text>
</svg></body></html>
